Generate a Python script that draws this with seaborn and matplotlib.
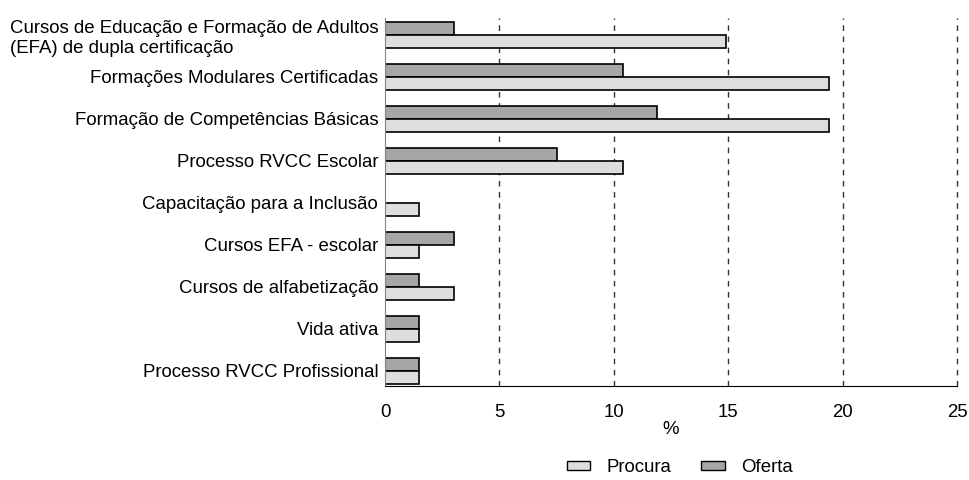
import pandas as pd
import numpy as np
import matplotlib.pyplot as plt
import seaborn as sns
from matplotlib.patches import Patch

categorias = [
    "Cursos de Educação e Formação de Adultos\n(EFA) de dupla certificação",
    "Formações Modulares Certificadas",
    "Formação de Competências Básicas",
    "Processo RVCC Escolar",
    "Capacitação para a Inclusão",
    "Cursos EFA - escolar",
    "Cursos de alfabetização",
    "Vida ativa",
    "Processo RVCC Profissional",
]
procura = [14.9, 19.4, 19.4, 10.4, 1.5, 1.5, 3.0, 1.5, 1.5]
oferta = [3.0, 10.4, 11.9, 7.5, 0.0, 3.0, 1.5, 1.5, 1.5]

df = pd.DataFrame({
    "Categoria": categorias * 2,
    "Valor": oferta + procura,
    "Serie": ["Oferta"] * len(categorias) + ["Procura"] * len(categorias),
})

sns.set_style("white")
plt.rcParams["font.family"] = ["Liberation Sans", "DejaVu Sans"]
plt.rcParams["text.color"] = "black"
plt.rcParams["xtick.color"] = "black"
plt.rcParams["ytick.color"] = "black"
plt.rcParams["axes.labelcolor"] = "black"

cores = {"Procura": "#dedede", "Oferta": "#a6a6a6"}
fs = 13.4

fig = plt.figure(figsize=(9.7, 4.8), dpi=100)
ax = fig.add_axes([0.397, 0.196, 0.5896, 0.7665])

sns.barplot(data=df, y="Categoria", x="Valor", hue="Serie", hue_order=["Oferta", "Procura"],
            palette=cores, orient="h", width=0.62, edgecolor="black", linewidth=1.2,
            legend=False, ax=ax)

ax.set_xlim(0, 25)
ax.set_ylim(8.36, -0.405)
ax.set_xticks([0, 5, 10, 15, 20, 25])
for x in [5, 10, 15, 20, 25]:
    ax.axvline(x, color="#333333", linestyle=(0, (4, 4)), linewidth=1, zorder=0, clip_on=False)

ax.set_ylabel("")
ax.set_xlabel("%", fontsize=fs, labelpad=0)
ax.tick_params(axis="x", labelsize=fs, length=0, pad=13)
ax.tick_params(axis="y", labelsize=fs, length=3, pad=2, color="#808080")
lab0 = ax.get_yticklabels()[0]
lab0.set_multialignment("left")
lab0.set_linespacing(1.2)

for s in ["top", "right"]:
    ax.spines[s].set_visible(False)
ax.spines["left"].set_color("#808080")
ax.spines["bottom"].set_color("black")

handles = [Patch(facecolor=cores["Procura"], edgecolor="black", label="Procura"),
           Patch(facecolor=cores["Oferta"], edgecolor="black", label="Oferta")]
fig.legend(handles=handles, loc="center", bbox_to_anchor=(0.701, 0.025), ncol=2,
           frameon=False, fontsize=fs, handlelength=1.25, handleheight=0.38,
           columnspacing=1.6, handletextpad=0.9)

fig.savefig("out.png", dpi=100)
